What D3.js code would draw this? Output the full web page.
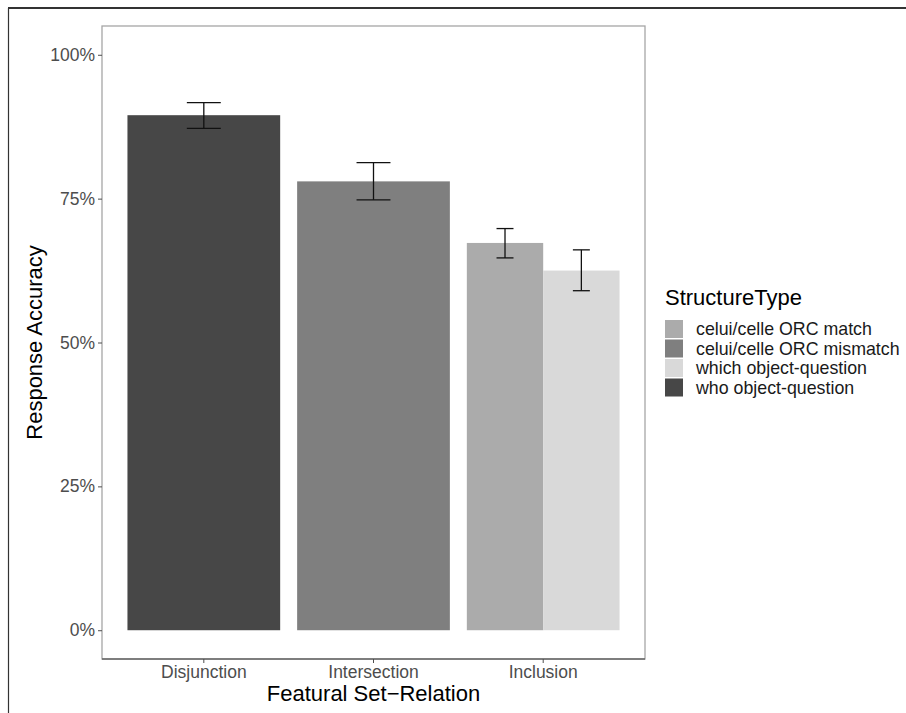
<!DOCTYPE html>
<html><head><meta charset="utf-8">
<script src="https://cdn.jsdelivr.net/npm/d3@7"></script>
<style>html,body{margin:0;padding:0;background:#fff;}svg{display:block;font-family:"Liberation Sans",Arial,Helvetica,sans-serif;}</style>
</head><body>
<script>
const categories = ["Disjunction", "Intersection", "Inclusion"];
const structureTypes = ["celui/celle ORC match", "celui/celle ORC mismatch", "which object-question", "who object-question"];
const fillColors = ["#ababab", "#7f7f7f", "#d9d9d9", "#474747"];
const barCategory = ["Disjunction", "Intersection", "Inclusion", "Inclusion"];
const barType = ["who object-question", "celui/celle ORC mismatch", "celui/celle ORC match", "which object-question"];
const barMean = [0.895, 0.780, 0.673, 0.625];
const barLower = [0.872, 0.748, 0.647, 0.590];
const barUpper = [0.917, 0.8125, 0.698, 0.661];
const yTicks = [0, 0.25, 0.5, 0.75, 1];

const W = 906, H = 713;
const svg = d3.select("body").append("svg").attr("width", W).attr("height", H);

// outer frame
svg.append("line").attr("x1", 8).attr("x2", W).attr("y1", 8).attr("y2", 8).attr("stroke", "#333").attr("stroke-width", 2);
svg.append("line").attr("x1", 8.5).attr("x2", 8.5).attr("y1", 8).attr("y2", H).attr("stroke", "#333").attr("stroke-width", 1.2);

const P = {l: 102, r: 645, t: 26, b: 659};
const x = d3.scaleBand().domain(categories).range([P.l, P.r]).paddingInner(0.1).paddingOuter(0.15);
const y = d3.scaleLinear().domain([-0.05, 1.05]).range([P.b, P.t]);
const color = d3.scaleOrdinal().domain(structureTypes).range(fillColors);

const bars = barMean.map((m, i) => ({cat: barCategory[i], type: barType[i], mean: m, lo: barLower[i], hi: barUpper[i]}));
const groups = d3.group(bars, d => d.cat);
bars.forEach(d => {
  const g = groups.get(d.cat);
  const sub = d3.scaleBand().domain(g.map(e => e.type)).range([0, x.bandwidth()]);
  d.x0 = x(d.cat) + sub(d.type);
  d.w = sub.bandwidth();
  d.cx = d.x0 + d.w / 2;
  d.ew = 0.2 * x.step() / g.length;
});

// panel border
svg.append("rect").attr("x", P.l).attr("y", P.t).attr("width", P.r - P.l).attr("height", P.b - P.t)
  .attr("fill", "none").attr("stroke", "#a6a6a6").attr("stroke-width", 1.3);
svg.append("line").attr("x1", P.l).attr("x2", P.r).attr("y1", P.b).attr("y2", P.b).attr("stroke", "#666").attr("stroke-width", 1.3);

svg.append("g").selectAll("rect").data(bars).join("rect")
  .attr("x", d => d.x0).attr("width", d => d.w)
  .attr("y", d => y(d.mean)).attr("height", d => y(0) - y(d.mean))
  .attr("fill", d => color(d.type));

const eb = svg.append("g").attr("stroke", "#111").attr("stroke-width", 1.3).attr("fill", "none");
bars.forEach(d => {
  eb.append("line").attr("x1", d.cx).attr("x2", d.cx).attr("y1", y(d.lo)).attr("y2", y(d.hi));
  eb.append("line").attr("x1", d.cx - d.ew / 2).attr("x2", d.cx + d.ew / 2).attr("y1", y(d.lo)).attr("y2", y(d.lo));
  eb.append("line").attr("x1", d.cx - d.ew / 2).attr("x2", d.cx + d.ew / 2).attr("y1", y(d.hi)).attr("y2", y(d.hi));
});

// y axis
const yAxis = svg.append("g").attr("transform", `translate(${P.l},0)`)
  .call(d3.axisLeft(y).tickValues(yTicks).tickFormat(d3.format(".0%")).tickSize(4).tickPadding(3));
yAxis.select(".domain").remove();
yAxis.selectAll("line").attr("stroke", "#4d4d4d");
yAxis.selectAll("text").attr("fill", "#4d4d4d").attr("font-size", "17.5px").attr("font-family", "'Liberation Sans',Arial,sans-serif");

// x axis
const xAxis = svg.append("g").attr("transform", `translate(0,${P.b})`)
  .call(d3.axisBottom(x).tickSize(4).tickPadding(3));
xAxis.select(".domain").remove();
xAxis.selectAll("line").attr("stroke", "#4d4d4d");
xAxis.selectAll("text").attr("fill", "#4d4d4d").attr("font-size", "17.5px").attr("font-family", "'Liberation Sans',Arial,sans-serif");

// titles
svg.append("text").attr("x", (P.l + P.r) / 2).attr("y", 701).attr("text-anchor", "middle")
  .attr("font-size", "22px").attr("fill", "#000").text("Featural Set\u2212Relation");
svg.append("text").attr("transform", `translate(42,${(P.t + P.b) / 2}) rotate(-90)`).attr("text-anchor", "middle")
  .attr("font-size", "22px").attr("fill", "#000").text("Response Accuracy");

// legend
const lg = svg.append("g");
lg.append("text").attr("x", 665).attr("y", 305).attr("font-size", "22px").attr("fill", "#000").text("StructureType");
structureTypes.forEach((s, i) => {
  const yy = 320 + i * 19.5;
  lg.append("rect").attr("x", 665).attr("y", yy).attr("width", 18).attr("height", 18).attr("fill", color(s));
  lg.append("text").attr("x", 696).attr("y", yy + 15).attr("font-size", "17.8px").attr("fill", "#1a1a1a").text(s);
});
</script>
</body></html>
